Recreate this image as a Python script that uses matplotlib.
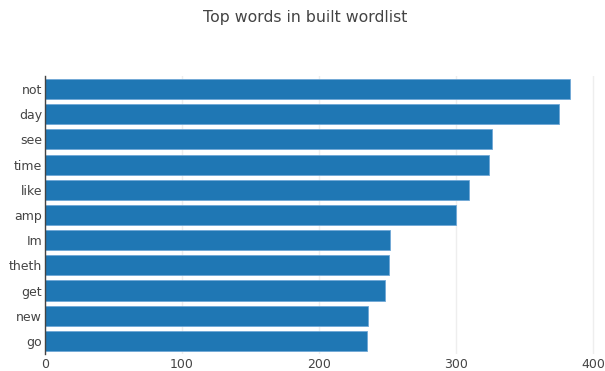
import matplotlib
matplotlib.use("Agg")
import matplotlib.pyplot as plt

plt.rcParams["font.family"] = ["DejaVu Sans"]

words = ["not", "day", "see", "time", "like", "amp", "Im", "theth", "get", "new", "go"]
counts = [383, 375, 326, 324, 309, 300, 252, 251, 248, 236, 235]
xticks = [0, 100, 200, 300, 400]

fig = plt.figure(figsize=(6.05, 3.71), dpi=100)
ax = fig.add_axes([0.0744, 0.047, 0.913, 0.747])

ypos = list(range(len(words)))[::-1]
ax.barh(ypos, counts, height=0.8, color="#1f77b4", edgecolor="#6fa8d6", linewidth=0.6, zorder=3)

ax.set_xlim(0, 403)
ax.set_ylim(-0.5, len(words) - 0.5)
ax.set_yticks(ypos)
ax.set_yticklabels(words)
ax.set_xticks(xticks)
ax.set_xticklabels([str(t) for t in xticks])

ax.grid(axis="x", color="#eeeeee", linewidth=1, zorder=0)
for s in ["top", "right", "bottom"]:
    ax.spines[s].set_visible(False)
ax.spines["left"].set_color("#444444")
ax.spines["left"].set_linewidth(1)
ax.spines["left"].set_zorder(4)
ax.tick_params(axis="both", length=0, labelsize=9, colors="#444444")
ax.tick_params(axis="y", pad=2)
ax.tick_params(axis="x", pad=3)

fig.text(0.505, 0.952, "Top words in built wordlist", ha="center", va="center",
         fontsize=11.3, color="#444444")

fig.savefig("out.png", dpi=100)
